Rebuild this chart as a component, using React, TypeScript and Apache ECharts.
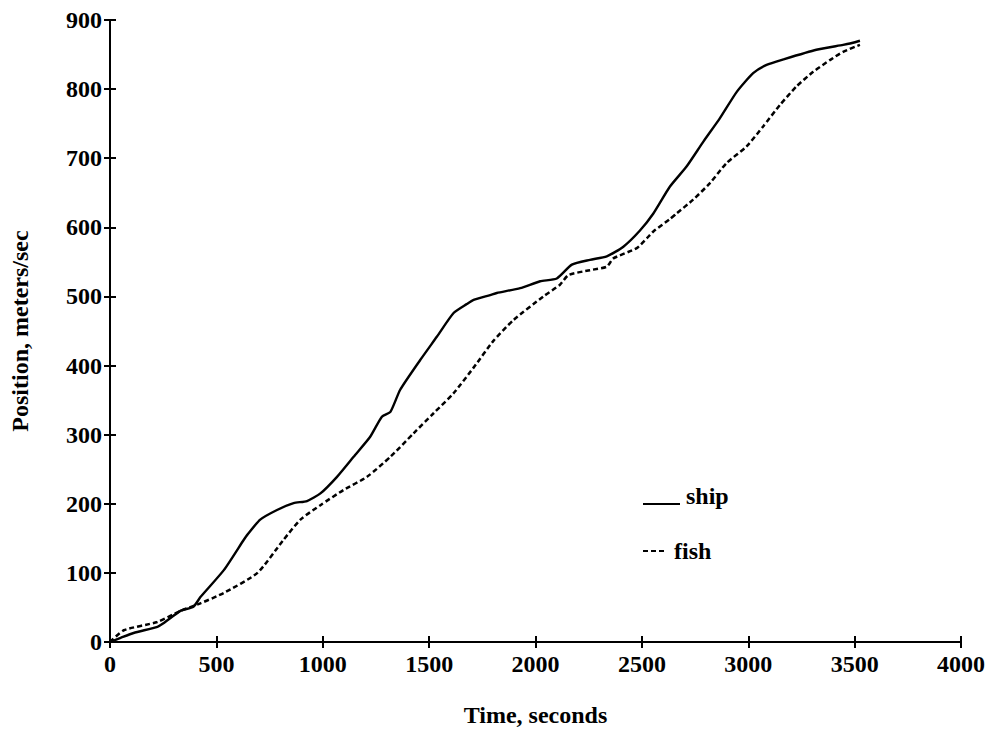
import React, { useEffect, useRef } from "react";
import * as echarts from "echarts";

const xTicks = [0, 500, 1000, 1500, 2000, 2500, 3000, 3500, 4000];
const yTicks = [0, 100, 200, 300, 400, 500, 600, 700, 800, 900];

const shipTime = [0, 50, 111, 223, 251, 331, 392, 425, 535, 629, 645, 706, 785, 863, 926, 989, 1067, 1145, 1223, 1278, 1318, 1364, 1458, 1537, 1615, 1677, 1709, 1787, 1818, 1928, 2022, 2100, 2171, 2256, 2335, 2413, 2490, 2554, 2632, 2710, 2789, 2867, 2946, 3023, 3086, 3165, 3320, 3446, 3478, 3525];
const shipPos = [0, 6, 13, 22, 27, 45, 51, 65, 104, 148, 155, 177, 191, 201, 204, 215, 239, 268, 297, 326, 333, 365, 408, 442, 476, 489, 495, 502, 505, 512, 522, 526, 546, 553, 558, 572, 595, 620, 659, 688, 724, 758, 796, 823, 835, 843, 857, 864, 866, 870];

const fishTime = [0, 65, 222, 331, 425, 535, 693, 816, 895, 989, 1098, 1208, 1318, 1427, 1521, 1615, 1709, 1803, 1897, 2037, 2115, 2155, 2256, 2335, 2366, 2476, 2523, 2554, 2632, 2663, 2741, 2820, 2898, 2992, 3070, 3149, 3227, 3305, 3384, 3446, 3525];
const fishPos = [0, 17, 29, 45, 56, 71, 100, 148, 177, 198, 220, 239, 268, 302, 331, 360, 397, 436, 466, 500, 517, 531, 538, 543, 555, 570, 584, 594, 612, 620, 640, 664, 693, 717, 746, 777, 804, 825, 842, 854, 864];

const seriesNames = ["ship", "fish"];
const xName = "Time, seconds";
const yName = "Position, meters/sec";

const FONT = "Liberation Serif";

export default function App() {
  const ref = useRef<HTMLDivElement>(null);
  useEffect(() => {
    if (!ref.current) return;
    const chart = echarts.init(ref.current, null, { renderer: "svg" });
    const textStyle = { fontFamily: FONT, fontWeight: "bold" as const, fontSize: 24, color: "#000" };
    const axisLine = { show: true, lineStyle: { color: "#000", width: 2 } };
    const axisTick = { show: true, inside: true, length: 6, lineStyle: { color: "#000", width: 2 } };
    const xMin = xTicks[0], xMax = xTicks[xTicks.length - 1];
    const xInt = xTicks[1] - xTicks[0];
    const yMin = yTicks[0], yMax = yTicks[yTicks.length - 1];
    const yInt = yTicks[1] - yTicks[0];
    const fmt = (v: number) => String(v);
    chart.setOption({
      animation: false,
      backgroundColor: "#fff",
      grid: { left: 110, right: 31, top: 20, bottom: 91, containLabel: false, outerBoundsMode: "none" },
      xAxis: [
        {
          type: "value", min: xMin, max: xMax, interval: xInt, position: "bottom",
          name: xName, nameLocation: "middle", nameGap: 61, nameTextStyle: textStyle,
          axisLine, axisTick, splitLine: { show: false },
          axisLabel: { ...textStyle, margin: 10, formatter: fmt },
        },
        {
          type: "value", min: xMin, max: xMax, interval: xInt, position: "top",
          axisLine, axisTick, splitLine: { show: false }, axisLabel: { show: false },
        },
      ],
      yAxis: [
        {
          type: "value", min: yMin, max: yMax, interval: yInt, position: "left",
          name: yName, nameLocation: "middle", nameGap: 78, nameTextStyle: textStyle,
          axisLine, axisTick, splitLine: { show: false },
          axisLabel: { ...textStyle, margin: 8, formatter: fmt },
        },
        {
          type: "value", min: yMin, max: yMax, interval: yInt, position: "right",
          axisLine, axisTick, splitLine: { show: false }, axisLabel: { show: false },
        },
      ],
      series: [
        {
          name: seriesNames[0], type: "line", showSymbol: false, smooth: 0.2,
          data: shipTime.map((t, i) => [t, shipPos[i]]),
          lineStyle: { color: "#000", width: 2.4, type: "solid" },
        },
        {
          name: seriesNames[1], type: "line", showSymbol: false, smooth: 0.2,
          data: fishTime.map((t, i) => [t, fishPos[i]]),
          lineStyle: { color: "#000", width: 2.5, type: [5, 3] },
        },
      ],
      graphic: [
        { type: "line", shape: { x1: 643, y1: 504, x2: 680, y2: 504 }, style: { stroke: "#000", lineWidth: 2 } },
        { type: "text", x: 686, y: 496, style: { text: seriesNames[0], font: `bold 24px "${FONT}"`, fill: "#000", verticalAlign: "middle" } },
        { type: "line", shape: { x1: 643, y1: 551, x2: 666, y2: 551 }, style: { stroke: "#000", lineWidth: 2, lineDash: [5, 3] } },
        { type: "text", x: 674, y: 551, style: { text: seriesNames[1], font: `bold 24px "${FONT}"`, fill: "#000", verticalAlign: "middle" } },
      ],
    });
    return () => chart.dispose();
  }, []);
  return <div ref={ref} style={{ width: 992, height: 733, position: "absolute", left: 0, top: 0 }} />;
}
